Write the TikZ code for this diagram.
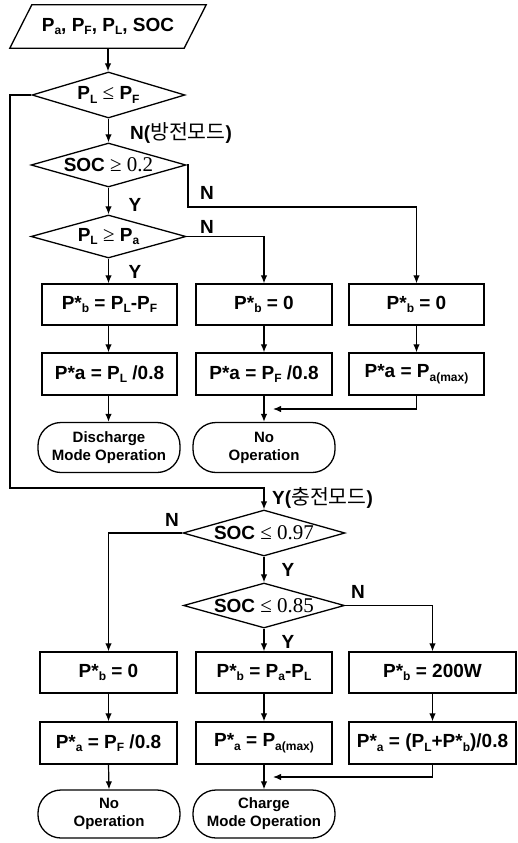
\documentclass[tikz,border=0pt]{standalone}
\usepackage{fontspec}
\setmainfont{Liberation Sans}
\newfontfamily\krfont{Noto Sans CJK KR}
\newfontfamily\tmsfont{Liberation Serif}
\usetikzlibrary{shapes.geometric,arrows.meta,calc}
\newcommand\lo[1]{\raisebox{-0.35ex}{\fontsize{12}{12}\selectfont #1}}
\newcommand\mth[1]{{\mdseries\tmsfont\fontsize{21}{22}\selectfont #1}}
\newcommand\zw[1]{\makebox[0pt]{#1}}
\newcommand\krt[1]{{\krfont\mdseries\fontsize{20.5}{22}\selectfont #1}}
\tikzset{
  box/.style={draw, line width=1.3pt, minimum height=41pt, inner sep=0pt,
    font=\fontsize{19}{22}\selectfont\bfseries},
  dec/.style={draw, diamond, aspect=3.4, inner sep=0pt, line width=1.3pt,
    font=\fontsize{19}{22}\selectfont\bfseries},
  term/.style={draw, line width=1.3pt, rounded corners=23pt, minimum width=142pt,
    minimum height=50pt, inner sep=0pt, align=center,
    font=\fontsize{15}{18}\selectfont\bfseries},
  flow/.style={line width=1.2pt, -{Latex[length=8pt,width=6.5pt]}},
  lab/.style={inner sep=0pt, font=\fontsize{19}{22}\selectfont\bfseries},
}
\begin{document}
\begin{tikzpicture}[x=1pt,y=-1pt]
\useasboundingbox (0,0) rectangle (517,843);
% input
\node[inner sep=0pt, minimum width=174pt, minimum height=43pt,
  font=\fontsize{19}{22}\selectfont\bfseries] (in) at (108,26.5)
  {P\lo{a}, P\lo{F}, P\lo{L}, SOC};
\draw[line width=1.3pt] ($(in.north west)+(11,0)$) -- ($(in.north east)+(11,0)$)
  -- ($(in.south east)+(-11,0)$) -- ($(in.south west)+(-11,0)$) -- cycle;
% decisions upper
\node[dec, minimum width=153pt, minimum height=46pt] (d1) at (108.5,95)
  {\zw{P\lo{L} \mth{≤} P\lo{F}}};
\node[dec, minimum width=155pt, minimum height=44pt] (d2) at (108.5,165)
  {\zw{SOC \mth{≥ 0.2}}};
\node[dec, minimum width=155pt, minimum height=43pt] (d3) at (108.5,236.5)
  {\zw{P\lo{L} \mth{≥} P\lo{a}}};
% boxes upper
\node[box, minimum width=135pt] (b11) at (109.5,304.5) {P*\lo{b} = P\lo{L}-P\lo{F}};
\node[box, minimum width=136pt] (b12) at (264,304.5) {P*\lo{b} = 0};
\node[box, minimum width=135pt] (b13) at (416.5,304.5) {P*\lo{b} = 0};
\node[box, minimum width=135pt, minimum height=42pt] (b21) at (109.5,374) {P*a = P\lo{L} /0.8};
\node[box, minimum width=136pt, minimum height=42pt] (b22) at (264,374) {P*a = P\lo{F} /0.8};
\node[box, minimum width=135pt, minimum height=42pt] (b23) at (416.5,374) {P*a = P\lo{a(max)}};
\node[term] (t1) at (109,447.5) {Discharge\\Mode Operation};
\node[term] (t2) at (264,447.5) {No\\Operation};
% decisions lower
\node[dec, minimum width=162pt, minimum height=46pt] (d4) at (264,533)
  {\zw{SOC \mth{≤ 0.97}}};
\node[dec, minimum width=161pt, minimum height=45pt] (d5) at (264,605.5)
  {\zw{SOC \mth{≤ 0.85}}};
% boxes lower
\node[box, minimum width=137pt] (b31) at (108.5,672.5) {P*\lo{b} = 0};
\node[box, minimum width=136pt] (b32) at (264,672.5) {P*\lo{b} = P\lo{a}-P\lo{L}};
\node[box, minimum width=167pt] (b33) at (432.5,672.5) {P*\lo{b} = 200W};
\node[box, minimum width=137pt, minimum height=42pt] (b41) at (108.5,743) {P*\lo{a} = P\lo{F} /0.8};
\node[box, minimum width=136pt, minimum height=42pt] (b42) at (264,743) {P*\lo{a} = P\lo{a(max)}};
\node[box, minimum width=167pt, minimum height=42pt] (b43) at (432.5,743) {P*\lo{a} = (P\lo{L}+P*\lo{b})/0.8};
\node[term, minimum height=48pt] (t3) at (109,814) {No\\Operation};
\node[term, minimum height=48pt] (t4) at (264,814) {Charge\\Mode Operation};
% coordinates
\coordinate (c2a) at (188,165);
\coordinate (c2b) at (188,207);
\coordinate (c2c) at (416.5,207);
\coordinate (c3a) at (264,236.5);
\coordinate (lp1) at (10,95);
\coordinate (lp2) at (10,488);
\coordinate (lp3) at (264,488);
\coordinate (mA) at (273,409);
\coordinate (c4a) at (108.5,533);
\coordinate (c5a) at (432.5,605.5);
\coordinate (mB) at (273,777);
% connectors upper
\draw[flow] (in.south) -- (in.south |- d1.north);
\draw[flow] (d1.south) -- (d2.north);
\draw[flow] (d2.south) -- (d3.north);
\draw[flow] (d3.south) -- (d3.south |- b11.north);
\draw[flow] (d2.east) -- (c2a) -- (c2b) -- (c2c) -- (b13.north);
\draw[flow] (d3.east) -- (c3a) -- (b12.north);
\draw[flow] (b11.south -| d3.south) -- (b21.north -| d3.south);
\draw[flow] (b12.south) -- (b22.north);
\draw[flow] (b13.south) -- (b23.north);
\draw[flow] (b21.south -| d3.south) -- (t1.north -| d3.south);
\draw[flow] (b22.south) -- (t2.north);
\draw[flow] (b23.south) -- (b23.south |- mA) -- (mA);
\draw[flow] (d1.west) -- (lp1) -- (lp2) -- (lp3) -- (d4.north);
% connectors lower
\draw[flow] (d4.south) -- (d5.north);
\draw[flow] (d4.west) -- (c4a) -- (b31.north);
\draw[flow] (d5.south) -- (b32.north);
\draw[flow] (d5.east) -- (c5a) -- (b33.north);
\draw[flow] (b31.south) -- (b41.north);
\draw[flow] (b32.south) -- (b42.north);
\draw[flow] (b33.south) -- (b43.north);
\draw[flow] (b41.south) -- (t3.north);
\draw[flow] (b42.south) -- (t4.north);
\draw[flow] (b43.south) -- (b43.south |- mB) -- (mB);
% labels
\node[lab, anchor=west] (l1) at (130,133) {N(\krt{방전모드})};
\node[lab] (l2) at (207,193) {N};
\node[lab] (l3) at (135,205) {Y};
\node[lab] (l4) at (207,227) {N};
\node[lab] (l5) at (135,272) {Y};
\node[lab, anchor=west] (l6) at (272,498) {Y(\krt{충전모드})};
\node[lab] (l7) at (172,520) {N};
\node[lab] (l8) at (288,570) {Y};
\node[lab] (l9) at (358,592) {N};
\node[lab] (l10) at (288,642) {Y};
\end{tikzpicture}
\end{document}
